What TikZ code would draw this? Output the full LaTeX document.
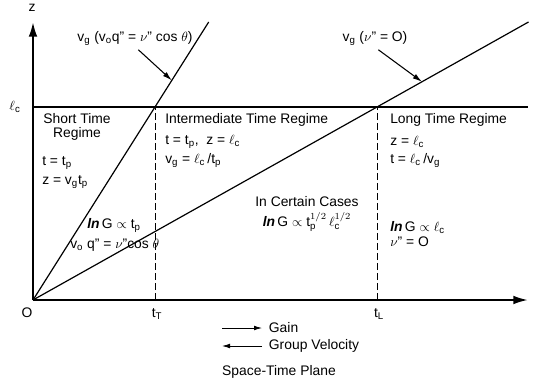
\documentclass[tikz,border=0pt]{standalone}
\usepackage{fontspec}
\setmainfont{Liberation Sans}
\usepackage{tikz}
\usetikzlibrary{arrows.meta,positioning,calc}

\newcommand{\lc}{$\ell_\mathrm{c}$}
\newcommand{\lnG}{{\bfseries\itshape ln}\,G}

\begin{document}
\begin{tikzpicture}[x=0.75pt, y=0.75pt, font=\fontsize{10.4}{10.5}\selectfont,
    axis/.style={draw, line width=1.5pt, -{Latex[length=11pt,width=6.5pt]}},
    ray/.style={draw, line width=0.9pt},
    guide/.style={draw, line width=0.7pt, dash pattern=on 5pt off 2.5pt},
    pointer/.style={draw, line width=0.8pt, -{Latex[length=7pt,width=4pt]}},
    key/.style={draw, line width=0.6pt, -{Latex[length=6pt,width=3.5pt]}},
    txt/.style={anchor=west, inner sep=0pt}]

    \useasboundingbox (-33,-83) rectangle (506,300);

    % axes and time marks
    \coordinate (O) at (0,0);
    \coordinate (ztop) at (0,278);
    \coordinate (tend) at (495,0);
    \coordinate (tT) at (122,0);
    \coordinate (tL) at (344,0);
    \coordinate (lcL) at (0,193);
    \coordinate (lcR) at (495,193);
    \coordinate (steep) at (175.7,278);
    \coordinate (shallow) at (495.5,278);

    \path [axis] (O) -- (ztop);
    \path [axis] (O) -- (tend);
    \path [ray] (lcL) -- (lcR);
    \path [ray] (O) -- (steep);
    \path [ray] (O) -- (shallow);
    \path [guide] (tT) -- (tT |- lcL);
    \path [guide] (tL) -- (tL |- lcL);

    \node (zlab) at (-1,292) {z};
    \node (lclab) at (-18,193) {\lc};
    \node (olab) at (-6,-13) {O};
    \node (tTlab) at (124,-14) {t$_\mathrm{T}$};
    \node (tLlab) at (346,-14) {t$_\mathrm{L}$};

    % group velocity lines
    \node (vgsteep) at (102,262) {v$_\mathrm{g}$ (v$_\mathrm{o}$q" = $\nu$" cos $\theta$)};
    \node (vgflat) at (342,262) {v$_\mathrm{g}$ ($\nu$" = O)};
    \coordinate (hitA) at ($(O)!0.79!(steep)$);
    \coordinate (hitB) at ($(O)!0.785!(shallow)$);
    \path [pointer] ([xshift=2.5pt]vgsteep.south) -- (hitA);
    \path [pointer] ([xshift=2.5pt]vgflat.south) -- (hitB);

    % regimes
    \node [align=center] (short) at (44,173) {Short Time\\Regime};
    \node [txt] (shortA) at (9,137) {t = t$_\mathrm{p}$};
    \node [txt] (shortB) at (9,118) {z = v$_\mathrm{g}$t$_\mathrm{p}$};

    \node [txt] (mid) at (132,180) {Intermediate Time Regime};
    \node [txt] (midA) at (132,158) {t = t$_\mathrm{p}$,\ \ z = \lc};
    \node [txt] (midB) at (132,140) {v$_\mathrm{g}$ = \lc\,/t$_\mathrm{p}$};

    \node [txt] (long) at (357,180) {Long Time Regime};
    \node [txt] (longA) at (357,158) {z = \lc};
    \node [txt] (longB) at (357,140) {t = \lc\,/v$_\mathrm{g}$};

    \node (certain) at (274,98) {In Certain Cases};
    \node (certainG) at (274,78) {\lnG\ $\propto$ t$_\mathrm{p}^{1/2}\,\ell_\mathrm{c}^{1/2}$};

    \node [txt] (shortG) at (54,75) {\lnG\ $\propto$ t$_\mathrm{p}$};
    \node [txt] (shortV) at (37,55) {v$_\mathrm{o}$ q" = $\nu$"cos $\theta$};

    \node [txt] (longG) at (357,72) {\lnG\ $\propto$ \lc};
    \node [txt] (longV) at (357,58) {$\nu$" = O};

    % legend
    \coordinate (gainA) at (189,-28);
    \coordinate (gainB) at (229,-28);
    \coordinate (velA) at (229,-46);
    \coordinate (velB) at (189,-46);
    \path [key] (gainA) -- (gainB);
    \path [key] (velA) -- (velB);
    \node [txt, right=5pt of gainB] (gain) {Gain};
    \node [txt, right=5pt of velA] (vel) {Group Velocity};

    \node (title) at (246,-72) {Space-Time Plane};
\end{tikzpicture}
\end{document}
